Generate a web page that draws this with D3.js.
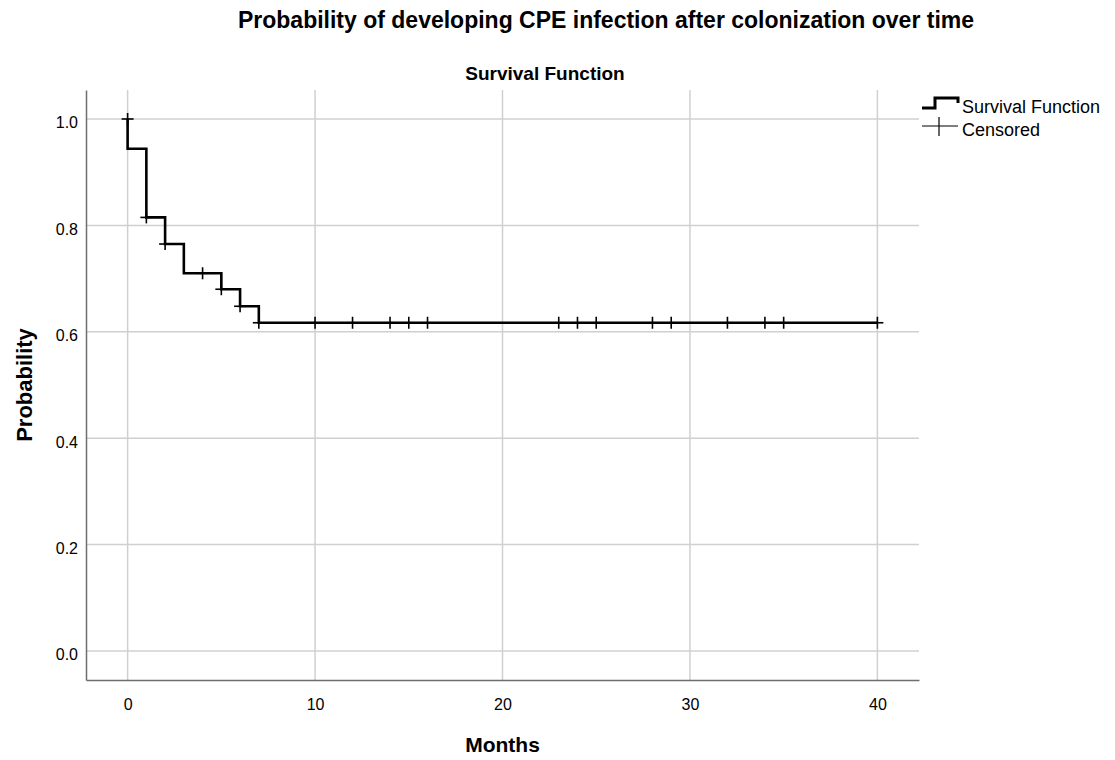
<!DOCTYPE html>
<html>
<head>
<meta charset="utf-8">
<script src="https://cdnjs.cloudflare.com/ajax/libs/d3/7.8.5/d3.min.js"></script>
<style>
  body { margin: 0; background: #fff; }
  svg text { font-family: "Liberation Sans", Arial, sans-serif; fill: #000; }
</style>
</head>
<body>
<div id="chart"></div>
<script>
// step function: time where S drops, and the value after the drop
var eventMonths = [0, 1, 2, 3, 5, 6, 7]
var survival = [0.944, 0.815, 0.765, 0.710, 0.680, 0.648, 0.617]
var lastMonth = 40

// censored cases
var censMonths = [0, 1, 2, 4, 5, 6, 7, 10, 12, 14, 15, 16, 23, 24, 25, 28, 29, 32, 34, 35, 40]
var censProb = [1.0, 0.815, 0.765, 0.710, 0.680, 0.648, 0.617, 0.617, 0.617, 0.617, 0.617, 0.617,
                0.617, 0.617, 0.617, 0.617, 0.617, 0.617, 0.617, 0.617, 0.617]

var xTicks = [0, 10, 20, 30, 40]
var yTicks = [0.0, 0.2, 0.4, 0.6, 0.8, 1.0]
var legendItems = ["Survival Function", "Censored"]

var W = 1115, H = 760
// plot box
var pL = 86, pR = 919, pT = 90, pB = 680

var svg = d3.select('#chart').append('svg').attr('width', W).attr('height', H)

var x = d3.scaleLinear().domain([-2.22, 42.22]).range([pL, pR])
var y = d3.scaleLinear().domain([-0.0545, 1.0545]).range([pB, pT])

// grid
svg.append('g').selectAll('line').data(xTicks).enter().append('line')
  .attr('x1', function(d){ return x(d) }).attr('x2', function(d){ return x(d) })
  .attr('y1', pT).attr('y2', pB)
  .attr('stroke', '#d0d0d0').attr('stroke-width', 1.5)
svg.append('g').selectAll('line').data(yTicks).enter().append('line')
  .attr('x1', pL).attr('x2', pR)
  .attr('y1', function(d){ return y(d) }).attr('y2', function(d){ return y(d) })
  .attr('stroke', '#d0d0d0').attr('stroke-width', 1.5)

// axes (no tick marks, just the line + labels)
var xAxis = svg.append('g').attr('transform', 'translate(0,' + pB + ')')
  .call(d3.axisBottom(x).tickValues(xTicks).tickSize(0).tickPadding(19).tickFormat(d3.format('d')))
var yAxis = svg.append('g').attr('transform', 'translate(' + pL + ',0)')
  .call(d3.axisLeft(y).tickValues(yTicks).tickSize(0).tickPadding(8).tickFormat(d3.format('.1f')))
var axes = [xAxis, yAxis]
axes.forEach(function(a){
  a.select('.domain').attr('stroke', '#6e6e6e').attr('stroke-width', 1.5)
  a.selectAll('text').style('font-size', '16px').attr('fill', '#222')
})
yAxis.selectAll('text').attr('dy', '0.55em')

// survival step line
var pts = [[0, 1.0]]
eventMonths.forEach(function(t, i){ pts.push([t, survival[i]]) })
pts.push([lastMonth, survival[survival.length - 1]])

var line = d3.line()
  .x(function(d){ return x(d[0]) })
  .y(function(d){ return y(d[1]) })
  .curve(d3.curveStepAfter)

svg.append('path').datum(pts).attr('d', line)
  .attr('fill', 'none').attr('stroke', '#000').attr('stroke-width', 2.6)

// censor marks
var cens = censMonths.map(function(t, i){ return [t, censProb[i]] })
var marks = svg.append('g').selectAll('g').data(cens).enter().append('g')
  .attr('transform', function(d){ return 'translate(' + x(d[0]) + ',' + y(d[1]) + ')' })
marks.append('line').attr('x1', 0).attr('x2', 0).attr('y1', -6).attr('y2', 6)
  .attr('stroke', '#000').attr('stroke-width', 1.6)
marks.append('line').attr('x1', -6).attr('x2', 6).attr('y1', 0).attr('y2', 0)
  .attr('stroke', '#000').attr('stroke-width', 1.6)

// titles
svg.append('text').attr('x', 606).attr('y', 28).attr('text-anchor', 'middle')
  .style('font-size', '23px').style('font-weight', 'bold')
  .text('Probability of developing CPE infection after colonization over time')
svg.append('text').attr('x', 545).attr('y', 80).attr('text-anchor', 'middle')
  .style('font-size', '19px').style('font-weight', 'bold')
  .text('Survival Function')
svg.append('text').attr('x', (pL + pR) / 2).attr('y', 752).attr('text-anchor', 'middle')
  .style('font-size', '21px').style('font-weight', 'bold')
  .text('Months')
svg.append('text').attr('transform', 'translate(32,' + ((pT + pB) / 2) + ') rotate(-90)')
  .attr('text-anchor', 'middle')
  .style('font-size', '22px').style('font-weight', 'bold')
  .text('Probability')

// legend
var lg = svg.append('g').attr('transform', 'translate(922,0)')
lg.append('path').attr('d', 'M0,108 H13 V98 H36 V103')
  .attr('fill', 'none').attr('stroke', '#000').attr('stroke-width', 3)
lg.append('line').attr('x1', 0).attr('x2', 36).attr('y1', 126).attr('y2', 126)
  .attr('stroke', '#000').attr('stroke-width', 1.2)
lg.append('line').attr('x1', 17).attr('x2', 17).attr('y1', 117).attr('y2', 136)
  .attr('stroke', '#000').attr('stroke-width', 1.2)
lg.selectAll('text').data(legendItems).enter().append('text')
  .attr('x', 40).attr('y', function(d, i){ return 113 + i * 23 })
  .style('font-size', '18px').attr('fill', '#222')
  .text(function(d){ return d })
</script>
</body>
</html>
